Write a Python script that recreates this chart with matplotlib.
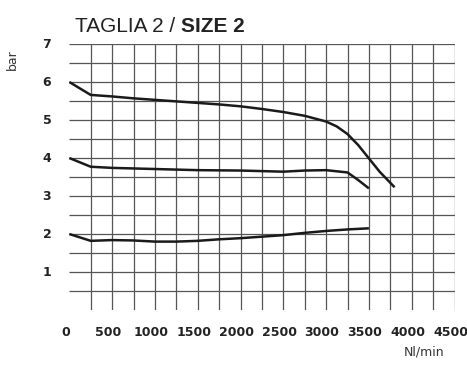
"""
Curva portata / pressione - taglia 2
"""
import matplotlib
matplotlib.use("Agg")
from matplotlib import pyplot as plt
from matplotlib import transforms

# Data (Nl/min -> bar)
flow_high = [0, 250, 500, 750, 1000, 1250, 1500, 1750, 2000, 2250, 2500, 2750,
             3000, 3125, 3250, 3375, 3500, 3625, 3800]
bar_high = [6.0, 5.66, 5.62, 5.57, 5.53, 5.49, 5.45, 5.41, 5.36, 5.29, 5.21, 5.11,
            4.96, 4.83, 4.63, 4.34, 3.99, 3.64, 3.23]

flow_mid = [0, 250, 500, 1000, 1500, 2000, 2500, 2750, 3000, 3250, 3375, 3500]
bar_mid = [4.0, 3.77, 3.74, 3.71, 3.68, 3.67, 3.64, 3.67, 3.68, 3.62, 3.42, 3.2]

flow_low = [0, 250, 500, 750, 1000, 1250, 1500, 1750, 2000, 2250, 2500, 2750,
            3000, 3250, 3500]
bar_low = [2.0, 1.82, 1.84, 1.83, 1.80, 1.80, 1.82, 1.86, 1.89, 1.93, 1.97, 2.03,
           2.08, 2.12, 2.15]

x_ticks = [0, 500, 1000, 1500, 2000, 2500, 3000, 3500, 4000, 4500]
y_ticks = [1, 2, 3, 4, 5, 6, 7]
h_grid = [0.5, 1, 1.5, 2, 2.5, 3, 3.5, 4, 4.5, 5, 5.5, 6, 6.5, 7]
v_grid = list(range(250, 4501, 250))

fig = plt.figure(figsize=(4.67, 3.65), dpi=100)
ax = fig.add_axes([69.3 / 467, 55 / 365, 385.2 / 467, 266 / 365])
ax.set_xlim(0, 4500)
ax.set_ylim(0, 7)
ax.axis("off")

# grid
ax.hlines(h_grid, 0, 4500, colors="#555555", linewidth=0.9, zorder=1)
ax.vlines(v_grid, 0, 7, colors="#555555", linewidth=0.9, zorder=1)

# curves
for fx, fy in [(flow_high, bar_high), (flow_mid, bar_mid), (flow_low, bar_low)]:
	ax.plot(fx, fy, color="#1a1a1a", linewidth=1.8, solid_capstyle="butt", zorder=3)

# tick labels
ytr = transforms.blended_transform_factory(ax.transAxes, ax.transData)
for v in y_ticks:
	ax.text(-0.058, v, str(v), transform=ytr, ha="center", va="center",
	        fontsize=9, fontweight="bold", color="#222222")
xtr = transforms.offset_copy(
	transforms.blended_transform_factory(ax.transData, ax.transAxes),
	fig=fig, x=-4, y=0, units="dots")
for v in x_ticks:
	ax.text(v, -22.7 / 266, str(v), transform=xtr, ha="center", va="center",
	        fontsize=9, fontweight="bold", color="#222222")

# axis names
fig.text(12 / 467, 1 - 60 / 365, "bar", rotation=90, ha="center", va="center",
         fontsize=9, color="#333333")
fig.text(424 / 467, 1 - 352 / 365, "Nl/min", ha="center", va="center",
         fontsize=9, color="#333333")

# title: normal + bold part
t1 = fig.text(75 / 467, 1 - 31.5 / 365, "TAGLIA 2 / ", ha="left", va="baseline",
              fontsize=15, color="#222222", family="Liberation Sans")
fig.canvas.draw()
bb = t1.get_window_extent(renderer=fig.canvas.get_renderer())
fig.text(bb.x1 / fig.bbox.width, 1 - 31.5 / 365, "SIZE 2", ha="left", va="baseline",
         fontsize=15, fontweight="bold", color="#222222", family="Liberation Sans")

fig.savefig("out.png", dpi=100)
